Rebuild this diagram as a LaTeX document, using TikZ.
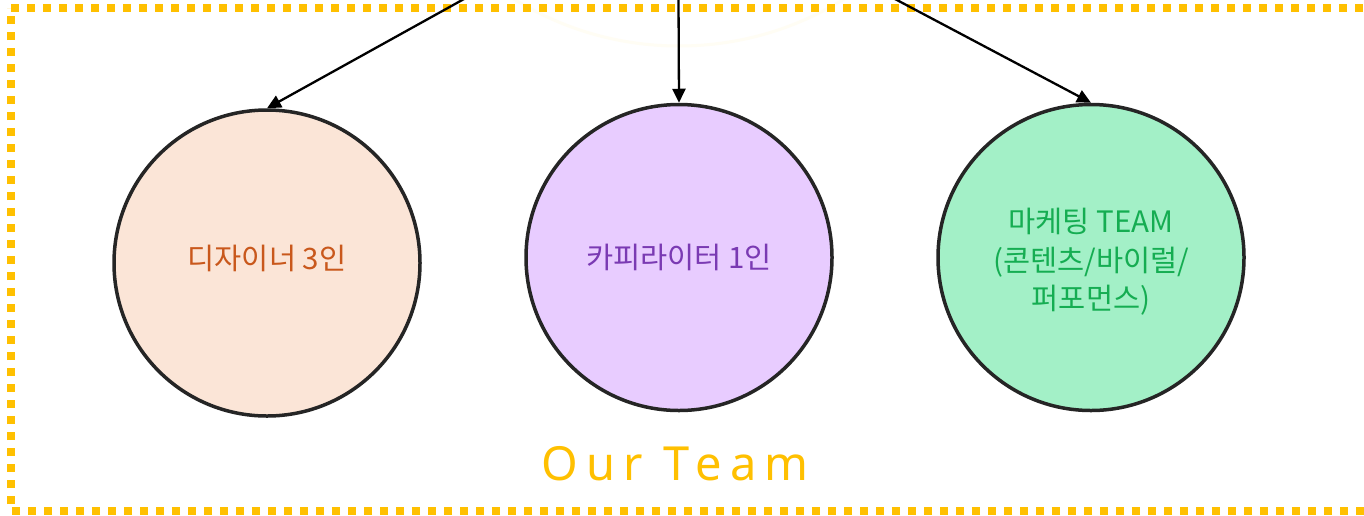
\documentclass[tikz,border=0pt]{standalone}
\usepackage{fontspec}
\setmainfont{Noto Sans CJK KR}
\newfontfamily\teamfont[LetterSpace=18]{Noto Sans}
\usetikzlibrary{arrows.meta}
\definecolor{gold}{HTML}{FFC000}
\definecolor{faintarc}{HTML}{FFFDF4}
\definecolor{peachfill}{HTML}{FBE5D7}
\definecolor{peachtext}{HTML}{C9581C}
\definecolor{lilacfill}{HTML}{E8CCFF}
\definecolor{lilactext}{HTML}{7A3AB3}
\definecolor{mintfill}{HTML}{A3F0C7}
\definecolor{minttext}{HTML}{15AD52}
\definecolor{rim}{HTML}{252525}
\tikzset{
  member/.style={circle, draw=rim, line width=3.5pt, minimum size=306pt, inner sep=0pt},
  label/.style={font=\fontsize{29.5}{38.5}\selectfont, align=center, inner sep=0pt},
  link/.style={line width=2.3pt, -{Triangle[length=14pt,width=13pt]}},
}
\begin{document}
\begin{tikzpicture}[x=1pt,y=-1pt]
\useasboundingbox (0,0) rectangle (1364,515);
\fill[white] (0,0) rectangle (1364,515);
% faint arc of a cut-off shape above
\draw[faintarc, line width=3pt] (679,-267) circle[radius=313];
% dotted frame
\draw[gold, line width=8pt, dash pattern=on 8pt off 8pt] (11,8) -- (1372,8) -- (1372,511) -- (11,511) -- cycle;
% members
\node[member, fill=peachfill] (design) at (267,263) {};
\node[member, fill=lilacfill] (copy) at (679,257.5) {};
\node[member, fill=mintfill] (mkt) at (1091,257.5) {};
\node[label, text=peachtext] (designtxt) at (267,258) {디자이너 3인};
\node[label, text=lilactext] (copytxt) at (679,257.5) {카피라이터 1인};
\node[label, text=minttext] (mkttxt) at (1091,262) {마케팅 TEAM\\(콘텐츠/바이럴/\\퍼포먼스)};
% connectors from above
\coordinate (srcA) at (464,-1);
\coordinate (srcB) at (678.5,-1);
\coordinate (srcC) at (895,-1);
\draw[link] (srcA) -- (design.north);
\draw[link] (srcB) -- (copy.north);
\draw[link] (srcC) -- (mkt.north);
% title
\node[text=gold, font=\teamfont\fontsize{47}{50}\selectfont, inner sep=0pt, anchor=base] (title) at (675,480) {Our Team};
\end{tikzpicture}
\end{document}
